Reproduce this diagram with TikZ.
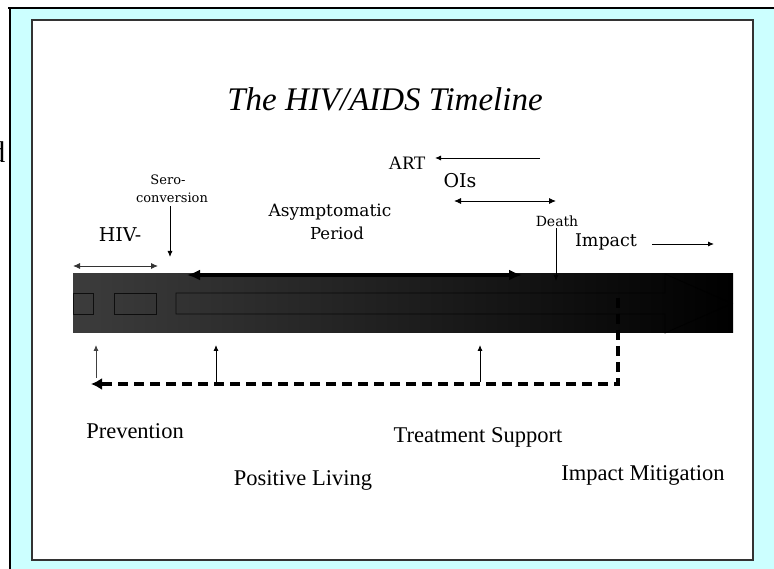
\documentclass[tikz,border=0pt]{standalone}
\usepackage{fontspec}
\setmainfont{Liberation Serif}
\newfontfamily\wideserif{DejaVu Serif}
\usetikzlibrary{arrows.meta}
\definecolor{panelcyan}{HTML}{CCFFFF}
\definecolor{barleft}{HTML}{3C3C3C}
\definecolor{framegray}{HTML}{333333}
\newcommand\setfs[1]{\fontsize{#1}{#1}\selectfont}
\begin{document}
\begin{tikzpicture}[x=1pt,y=-1pt,
  thinarrow/.style={line width=0.9pt,-{Latex[length=6pt,width=5pt]}},
  thindouble/.style={line width=0.9pt,{Latex[length=7pt,width=6pt]}-{Latex[length=7pt,width=6pt]}},
  thickdouble/.style={line width=4pt,{Latex[length=13pt,width=11pt]}-{Latex[length=13pt,width=11pt]}},
  dasharrow/.style={line width=3.6pt,dash pattern=on 10pt off 6pt,-{Latex[length=11pt,width=12pt]}},
  lbl/.style={inner sep=0pt,anchor=base},
  midlbl/.style={lbl,font=\wideserif\setfs{17.5}},
  smalllbl/.style={lbl,font=\wideserif\setfs{13}},
  biglbl/.style={lbl,font=\setfs{22.5}},
  outline/.style={draw=black,draw opacity=0.75,line width=0.9pt}
]
\useasboundingbox (0,0) rectangle (774,569);
% frames
\fill[white] (0,0) rectangle (774,569);
\fill[panelcyan] (10,8) rectangle (774,569);
\draw[line width=2pt] (8,8) -- (774,8);
\draw[line width=2pt] (10,8) -- (10,569);
\draw[fill=white,draw=framegray,line width=1.5pt] (32,20) rectangle (753,560);
\node[lbl,anchor=base east,font=\setfs{30}] (cutd) at (5.5,163) {d};

% title
\node[lbl,font=\itshape\setfs{33}] (title) at (385,111) {The HIV/AIDS Timeline};

% bar
\shade[left color=barleft,right color=black] (73,274) rectangle (733,333);
\draw[outline] (73,293) rectangle (93,314);
\draw[outline] (114,293) rectangle (156,314);
\draw[outline] (176,293) -- (665,293) -- (665,274) -- (732,303.5) -- (665,333) -- (665,314) -- (176,314) -- cycle;

% top labels
\node[lbl,font=\setfs{19}] (art) at (407,170) {ART};
\coordinate (artS) at (540,158);
\coordinate (artE) at (435,158);
\draw[thinarrow] (artS) -- (artE);

\node[midlbl,font=\wideserif\setfs{19}] (ois) at (460,188) {OIs};
\coordinate (oisL) at (454,201);
\coordinate (oisR) at (556,201);
\draw[thindouble] (oisL) -- (oisR);

\node[smalllbl,font=\wideserif\setfs{14}] (death) at (557,227) {Death};
\coordinate (deathE) at (556,281);
\draw[thinarrow] (death.south -| deathE) ++(0,1) -- (deathE);

\node[midlbl] (impact) at (606,247) {Impact};
\coordinate (impS) at (652,244);
\coordinate (impE) at (714,244);
\draw[thinarrow] (impS) -- (impE);

\node[smalllbl] (sero) at (168,185) {Sero-};
\node[smalllbl] (conv) at (172,203) {conversion};
\coordinate (seroE) at (170,257);
\draw[thinarrow] (conv.south -| seroE) ++(0,3) -- (seroE);

\node[midlbl,font=\wideserif\setfs{19}] (hiv) at (120,242) {HIV-};
\coordinate (hivL) at (73,266);
\coordinate (hivR) at (158,266);
\draw[thindouble,draw=black!80] (hivL) -- (hivR);

\node[midlbl,font=\wideserif\setfs{17}] (asym) at (330,217) {Asymptomatic};
\node[midlbl,font=\wideserif\setfs{16.5}] (period) at (337,240) {Period};

\coordinate (asL) at (187,275);
\coordinate (asR) at (522,275);
\draw[thickdouble] (asL) -- (asR);

% dashed feedback line
\coordinate (dTop) at (618,298);
\coordinate (dCorner) at (618,384);
\coordinate (dEnd) at (91,384);
\draw[dasharrow] (dTop) -- (dCorner) -- (dEnd);

% up arrows
\coordinate (u1a) at (96,378);
\coordinate (u1b) at (96,345);
\coordinate (u2a) at (216,382);
\coordinate (u2b) at (216,345);
\coordinate (u3a) at (480,382);
\coordinate (u3b) at (480,345);
\draw[thinarrow,draw=black!75] (u1a) -- (u1b);
\draw[thinarrow] (u2a) -- (u2b);
\draw[thinarrow] (u3a) -- (u3b);

% bottom labels
\node[biglbl] (prev) at (135,438) {Prevention};
\node[biglbl] (treat) at (478,442) {Treatment Support};
\node[biglbl] (pos) at (303,485) {Positive Living};
\node[biglbl] (mitig) at (643,480) {Impact Mitigation};
\end{tikzpicture}
\end{document}
